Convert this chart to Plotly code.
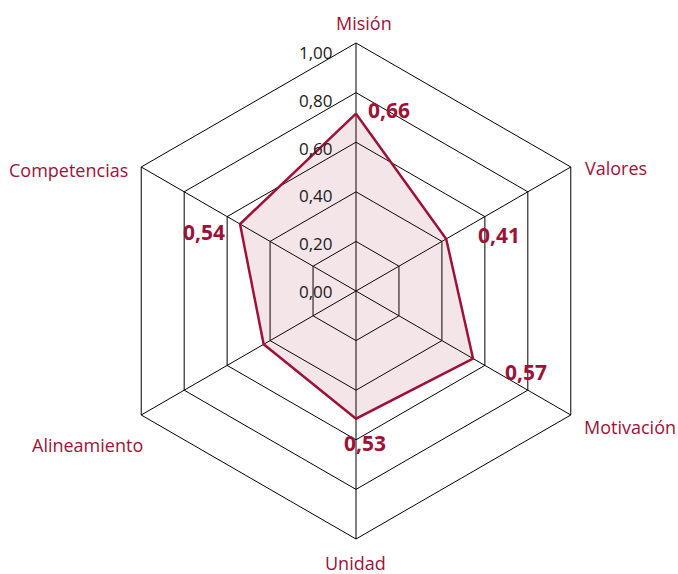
import math
import plotly.graph_objects as go

categories = ["Misión", "Valores", "Motivación", "Unidad", "Alineamiento", "Competencias"]
values = [0.715, 0.42, 0.545, 0.515, 0.43, 0.54]
value_labels = ["0,66", "0,41", "0,57", "0,53", "", "0,54"]
tick_vals = [0, 0.2, 0.4, 0.6, 0.8, 1.0]
tick_text = ["0,00", "0,20", "0,40", "0,60", "0,80", "1,00"]
# label offsets in pixels relative to each data point (style)
label_dx = [33, 53, 53, 9, 0, -36]
label_dy = [4, 4, -13, -24, 0, -8]
# category label placement relative to outer vertex (style)
cat_anchor = ["center", "left", "left", "center", "right", "right"]
cat_dx = [8, 12, 11, -1, 4, -11]
cat_dy = [20, -1, -12, -24, -30, -3]
TICK_SCALE = 0.96  # radial tick labels sit slightly inside their rings

RED = "#9E1238"
FONT = "Open Sans, Lato, sans-serif"

fig = go.Figure()
fig.add_trace(go.Scatterpolar(
    r=values + [values[0]],
    theta=categories + [categories[0]],
    mode="lines",
    line=dict(color=RED, width=2.5),
    fill="toself",
    fillcolor="rgba(158,18,56,0.11)",
    hoverinfo="skip",
    showlegend=False,
))

annotations = []
n = len(categories)
for i, (v, lab) in enumerate(zip(values, value_labels)):
    if not lab:
        continue
    ang = 2 * math.pi * i / n
    x = 0.5 + 0.5 * v * math.sin(ang)
    y = 0.5 + 0.5 * v * math.cos(ang)
    annotations.append(dict(
        x=x, y=y, xref="paper", yref="paper", text=lab, showarrow=False,
        xshift=label_dx[i], yshift=label_dy[i],
        font=dict(family=FONT, size=21, color=RED, weight="bold"),
        xanchor="center", yanchor="middle",
    ))

for i, cat in enumerate(categories):
    ang = 2 * math.pi * i / n
    x = 0.5 + 0.5 * math.sin(ang)
    y = 0.5 + 0.5 * math.cos(ang)
    annotations.append(dict(
        x=x, y=y, xref="paper", yref="paper", text=cat, showarrow=False,
        xshift=cat_dx[i], yshift=cat_dy[i],
        font=dict(family=FONT, size=18, color=RED),
        xanchor=cat_anchor[i], yanchor="middle",
    ))

for tv, tt in zip(tick_vals, tick_text):
    annotations.append(dict(
        x=0.5, y=0.5 + 0.5 * tv * TICK_SCALE, xref="paper", yref="paper",
        text=tt, showarrow=False, xshift=-21,
        font=dict(family=FONT, size=17, color="#1a1a1a"),
        xanchor="right", yanchor="middle",
    ))

fig.update_layout(
    width=678, height=574,
    margin=dict(l=108, r=74, t=43, b=35),
    paper_bgcolor="white",
    plot_bgcolor="white",
    font=dict(family=FONT),
    annotations=annotations,
    polar=dict(
        bgcolor="white",
        gridshape="linear",
        radialaxis=dict(
            range=[0, 1],
            tickvals=tick_vals,
            angle=90,
            showticklabels=False,
            showline=False,
            ticks="",
            gridcolor="black",
            gridwidth=1,
        ),
        angularaxis=dict(
            rotation=90,
            direction="clockwise",
            linecolor="black",
            linewidth=1,
            gridcolor="black",
            gridwidth=1,
            ticks="",
            showticklabels=False,
        ),
    ),
)

fig.write_html("out.html")
